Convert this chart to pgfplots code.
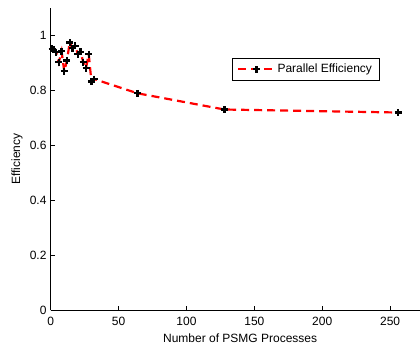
\documentclass[border=0pt]{standalone}
\usepackage{fontspec}
\setmainfont{Liberation Sans}
\usepackage{pgfplots}
\pgfplotsset{compat=1.18}
\begin{document}
\fontsize{12bp}{14bp}\selectfont
\begin{tikzpicture}
\begin{axis}[
  scale only axis,
  width=369.3bp, height=301.7bp,
  xmin=0, xmax=272, ymin=0, ymax=1.1,
  axis x line*=bottom, axis y line*=left,
  axis line style={-, black, line width=0.6bp},
  xtick={0,50,100,150,200,250},
  ytick={0,0.2,0.4,0.6,0.8,1},
  tick align=inside,
  major tick length=4bp,
  tick style={black, line width=0.6bp},
  /pgf/number format/assume math mode=true,
  ticklabel style={font=\fontsize{12bp}{14bp}\selectfont},
  xticklabel style={yshift=-3bp},
  label style={font=\fontsize{12bp}{14bp}\selectfont},
  xlabel={Number of PSMG Processes},
  ylabel={Efficiency},
  xlabel style={at={(axis description cs:0.513,0)}, anchor=center, yshift=-28bp},
  ylabel style={at={(axis description cs:0,0.5)}, anchor=center, yshift=33.7bp},
  legend style={at={(0.491,0.835)}, anchor=north west, draw=black, line width=0.6bp,
    fill=white, font=\fontsize{12bp}{14bp}\selectfont, inner xsep=5bp, inner ysep=3.5bp},
  legend cell align=left,
  legend image code/.code={
    \draw[red, line width=2.2bp, dash pattern=on 8bp off 5bp] (0bp,0bp) -- (36bp,0bp);
    \draw[black, solid, line width=2.2bp] (14.5bp,0bp) -- (21.5bp,0bp) (18bp,-3.5bp) -- (18bp,3.5bp);
  },
]
\addplot[red, line width=2.2bp, dash pattern=on 8bp off 5bp,
  mark=+, mark size=3.5bp, mark options={black, solid, line width=2.2bp}]
  coordinates {
  (1,0.953) (2,0.948) (4,0.940) (6,0.903) (8,0.943) (10,0.870) (12,0.910)
  (14,0.975) (16,0.955) (18,0.963) (20,0.933) (22,0.941) (24,0.903)
  (26,0.882) (28,0.933) (30,0.833) (32,0.842) (64,0.790) (128,0.731) (256,0.720)
  };
\addlegendentry{Parallel Efficiency}
\end{axis}
\pgfresetboundingbox
\path ([shift={(-50.7bp,-40bp)}]current axis.south west) rectangle ([shift={(0bp,8.3bp)}]current axis.north east);
\end{tikzpicture}
\end{document}
